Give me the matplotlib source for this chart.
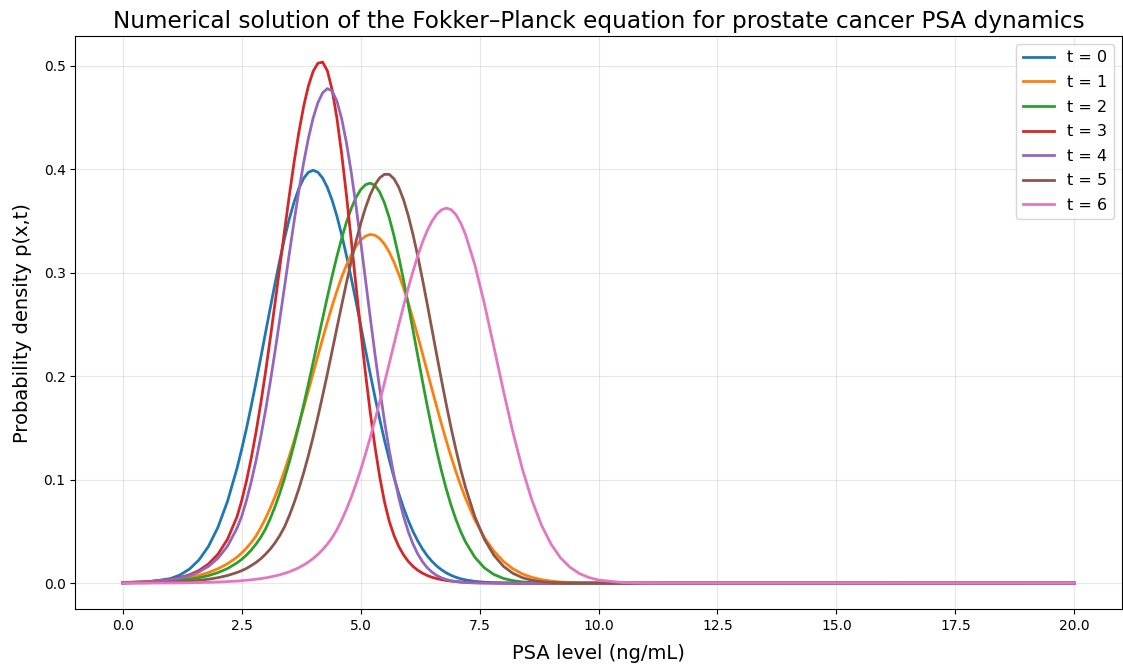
#!/usr/bin/env python3
"""Fokker-Planck PSA density snapshots, t = 0..6 (values read off the reference plot)."""

import matplotlib
matplotlib.use("Agg")
import matplotlib.pyplot as plt

# PSA grid (ng/mL); 0.1 steps from 2.5 to 7.2 where the curves bend, coarser in the tails
psa = [0.0, 0.5,
       1.0, 1.2, 1.4, 1.6, 1.8, 2.0, 2.2, 2.4,
       2.5, 2.6, 2.7, 2.8, 2.9, 3.0, 3.1, 3.2, 3.3, 3.4, 3.5, 3.6, 3.7, 3.8,
       3.9, 4.0, 4.1, 4.2, 4.3, 4.4, 4.5, 4.6, 4.7, 4.8, 4.9, 5.0, 5.1, 5.2, 5.3, 5.4, 5.5,
       5.6, 5.7, 5.8, 5.9, 6.0, 6.1, 6.2, 6.3, 6.4, 6.5, 6.6, 6.7, 6.8, 6.9, 7.0, 7.1, 7.2,
       7.4, 7.6, 7.8, 8.0, 8.2, 8.4, 8.6, 8.8, 9.0, 9.2, 9.4, 9.6, 9.8, 10.0,
       10.5, 11.0, 20.0]

p_t0 = [0.0001, 0.0009,
        0.0044, 0.0079, 0.0136, 0.0224, 0.0355, 0.0540, 0.0790, 0.1109,
        0.1296, 0.1497, 0.1714, 0.1942, 0.2179, 0.2420, 0.2661, 0.2897, 0.3123, 0.3333, 0.3521, 0.3683, 0.3814, 0.3911,
        0.3970, 0.3990, 0.3971, 0.3915, 0.3824, 0.3700, 0.3547, 0.3367, 0.3167, 0.2951, 0.2724, 0.2491, 0.2256, 0.2024, 0.1799, 0.1584, 0.1382,
        0.1195, 0.1022, 0.0867, 0.0728, 0.0606, 0.0499, 0.0408, 0.0330, 0.0264, 0.0210, 0.0165, 0.0129, 0.0099, 0.0076, 0.0057, 0.0043, 0.0032,
        0.0017, 0.0009, 0.0004, 0.0002, 0.0001, 0.0, 0.0, 0.0, 0.0, 0.0, 0.0, 0.0, 0.0, 0.0,
        0.0, 0.0, 0.0]
p_t1 = [0.0007, 0.0015,
        0.0031, 0.0042, 0.0057, 0.0076, 0.0103, 0.0139, 0.0187, 0.0251,
        0.0292, 0.0339, 0.0393, 0.0456, 0.0536, 0.0626, 0.0726, 0.0837, 0.0957, 0.1088, 0.1227, 0.1375, 0.1531, 0.1692,
        0.1859, 0.2027, 0.2196, 0.2362, 0.2524, 0.2679, 0.2823, 0.2956, 0.3073, 0.3173, 0.3254, 0.3315, 0.3353, 0.3370, 0.3362, 0.3331, 0.3276,
        0.3200, 0.3102, 0.2987, 0.2854, 0.2709, 0.2552, 0.2387, 0.2217, 0.2044, 0.1871, 0.1701, 0.1535, 0.1375, 0.1223, 0.1080, 0.0947, 0.0825,
        0.0611, 0.0441, 0.0309, 0.0210, 0.0139, 0.0089, 0.0056, 0.0034, 0.0020, 0.0011, 0.0006, 0.0003, 0.0002, 0.0001,
        0.0, 0.0, 0.0]
p_t2 = [0.0004, 0.0009,
        0.0020, 0.0028, 0.0038, 0.0053, 0.0073, 0.0102, 0.0141, 0.0196,
        0.0231, 0.0272, 0.0320, 0.0377, 0.0444, 0.0523, 0.0625, 0.0740, 0.0870, 0.1014, 0.1171, 0.1342, 0.1526, 0.1720,
        0.1923, 0.2132, 0.2345, 0.2557, 0.2766, 0.2968, 0.3157, 0.3331, 0.3487, 0.3619, 0.3725, 0.3803, 0.3850, 0.3866, 0.3844, 0.3779, 0.3674,
        0.3532, 0.3356, 0.3153, 0.2930, 0.2692, 0.2445, 0.2196, 0.1949, 0.1711, 0.1486, 0.1275, 0.1082, 0.0908, 0.0753, 0.0618, 0.0501, 0.0402,
        0.0250, 0.0148, 0.0084, 0.0046, 0.0024, 0.0012, 0.0006, 0.0003, 0.0001, 0.0, 0.0, 0.0, 0.0, 0.0,
        0.0, 0.0, 0.0]
p_t3 = [0.0004, 0.0013,
        0.0035, 0.0054, 0.0081, 0.0122, 0.0185, 0.0280, 0.0424, 0.0641,
        0.0799, 0.0989, 0.1209, 0.1459, 0.1737, 0.2040, 0.2366, 0.2707, 0.3057, 0.3407, 0.3747, 0.4067, 0.4356, 0.4605,
        0.4803, 0.4945, 0.5024, 0.5035, 0.4951, 0.4767, 0.4495, 0.4150, 0.3752, 0.3322, 0.2880, 0.2444, 0.2032, 0.1654, 0.1319, 0.1029, 0.0786,
        0.0599, 0.0461, 0.0355, 0.0274, 0.0211, 0.0162, 0.0125, 0.0096, 0.0074, 0.0057, 0.0044, 0.0034, 0.0026, 0.0020, 0.0016, 0.0012, 0.0009,
        0.0005, 0.0003, 0.0002, 0.0001, 0.0, 0.0, 0.0, 0.0, 0.0, 0.0, 0.0, 0.0, 0.0, 0.0,
        0.0, 0.0, 0.0]
p_t4 = [0.0005, 0.0012,
        0.0033, 0.0049, 0.0073, 0.0109, 0.0162, 0.0241, 0.0357, 0.0531,
        0.0647, 0.0801, 0.0980, 0.1185, 0.1415, 0.1669, 0.1946, 0.2241, 0.2551, 0.2867, 0.3185, 0.3495, 0.3790, 0.4060,
        0.4297, 0.4494, 0.4642, 0.4738, 0.4779, 0.4756, 0.4658, 0.4489, 0.4258, 0.3974, 0.3651, 0.3300, 0.2936, 0.2570, 0.2215, 0.1878, 0.1566,
        0.1286, 0.1040, 0.0827, 0.0647, 0.0498, 0.0378, 0.0282, 0.0207, 0.0149, 0.0106, 0.0074, 0.0051, 0.0035, 0.0023, 0.0015, 0.0010, 0.0006,
        0.0002, 0.0001, 0.0, 0.0, 0.0, 0.0, 0.0, 0.0, 0.0, 0.0, 0.0, 0.0, 0.0, 0.0,
        0.0, 0.0, 0.0]
p_t5 = [0.0002, 0.0004,
        0.0010, 0.0014, 0.0019, 0.0027, 0.0038, 0.0053, 0.0074, 0.0103,
        0.0121, 0.0143, 0.0170, 0.0200, 0.0236, 0.0280, 0.0330, 0.0390, 0.0461, 0.0545, 0.0653, 0.0775, 0.0912, 0.1064,
        0.1231, 0.1412, 0.1606, 0.1811, 0.2024, 0.2244, 0.2465, 0.2686, 0.2901, 0.3108, 0.3300, 0.3474, 0.3626, 0.3753, 0.3850, 0.3917, 0.3951,
        0.3950, 0.3908, 0.3826, 0.3706, 0.3552, 0.3368, 0.3160, 0.2933, 0.2694, 0.2448, 0.2201, 0.1959, 0.1724, 0.1501, 0.1294, 0.1103, 0.0931,
        0.0642, 0.0424, 0.0269, 0.0163, 0.0095, 0.0053, 0.0028, 0.0014, 0.0007, 0.0003, 0.0001, 0.0, 0.0, 0.0,
        0.0, 0.0, 0.0]
p_t6 = [0.0001, 0.0001,
        0.0002, 0.0003, 0.0004, 0.0006, 0.0008, 0.0011, 0.0015, 0.0020,
        0.0024, 0.0028, 0.0032, 0.0038, 0.0044, 0.0051, 0.0060, 0.0070, 0.0081, 0.0095, 0.0110, 0.0129, 0.0150, 0.0175,
        0.0204, 0.0238, 0.0278, 0.0324, 0.0377, 0.0440, 0.0516, 0.0609, 0.0713, 0.0828, 0.0956, 0.1095, 0.1246, 0.1406, 0.1576, 0.1753, 0.1936,
        0.2123, 0.2311, 0.2497, 0.2678, 0.2852, 0.3014, 0.3163, 0.3296, 0.3408, 0.3499, 0.3566, 0.3608, 0.3624, 0.3610, 0.3563, 0.3483, 0.3373,
        0.3076, 0.2701, 0.2283, 0.1859, 0.1458, 0.1101, 0.0801, 0.0561, 0.0378, 0.0245, 0.0154, 0.0092, 0.0054, 0.0030,
        0.0006, 0.0001, 0.0]

snapshots = [p_t0, p_t1, p_t2, p_t3, p_t4, p_t5, p_t6]
labels = [f"t = {t}" for t in range(len(snapshots))]


def main():
    fig, ax = plt.subplots(figsize=(11.23, 6.68), dpi=100)
    fig.subplots_adjust(left=0.067, right=0.999, bottom=0.088, top=0.946)

    for p, lab in zip(snapshots, labels):
        ax.plot(psa, p, lw=2, label=lab)

    ax.set_title("Numerical solution of the Fokker\u2013Planck equation for prostate cancer PSA dynamics",
                 fontsize=16.7)
    ax.set_xlabel("PSA level (ng/mL)", fontsize=14, labelpad=8)
    ax.set_ylabel("Probability density p(x,t)", fontsize=14, labelpad=8)
    ax.grid(True, alpha=0.3)
    ax.legend(loc="upper right", fontsize=11.5, labelspacing=0.6)

    fig.savefig("out.png", dpi=100)
    plt.close(fig)


if __name__ == "__main__":
    main()
